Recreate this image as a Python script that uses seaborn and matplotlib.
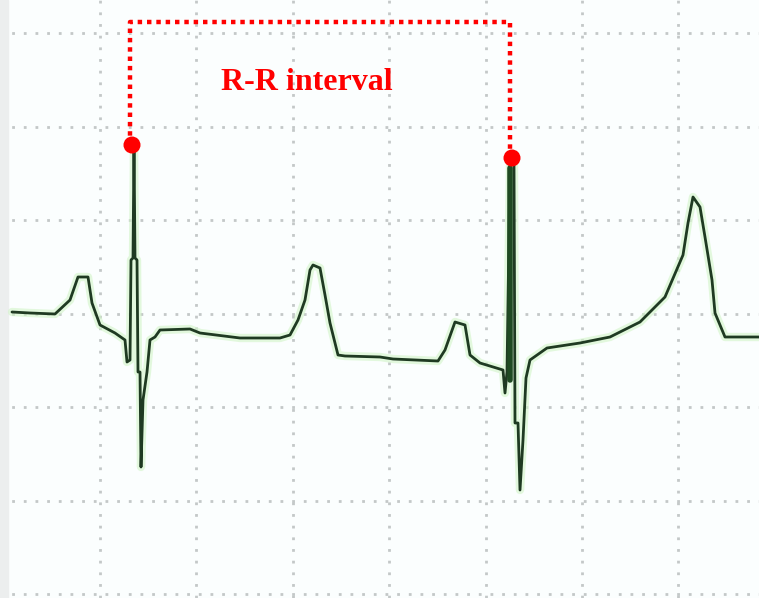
import matplotlib
matplotlib.use("Agg")
import matplotlib.pyplot as plt
import seaborn as sns
import numpy as np
import pandas as pd

# ECG trace (pixel units, y grows downward)
ecg_x = [12, 30, 55, 70, 78, 88, 92, 100, 115, 125, 127, 130, 131, 133, 134, 135, 137, 138,
         140, 141, 143, 147, 150, 155, 160, 190, 200, 240, 280, 290, 298, 305, 310, 313,
         320, 325, 330, 338, 345, 380, 393, 438, 445, 455, 465, 470, 480, 503, 505, 507,
         510, 512, 514, 515, 518, 520, 523, 526, 530, 547, 580, 610, 640, 665, 683, 688,
         693, 700, 705, 712, 715, 725, 759]
ecg_y = [312, 313, 314, 300, 277, 277, 303, 325, 333, 340, 362, 360, 260, 258, 145, 258, 260, 372,
         372, 467, 400, 372, 340, 337, 330, 329, 333, 338, 338, 335, 320, 300, 270, 265,
         268, 295, 323, 355, 356, 357, 359, 361, 350, 322, 325, 355, 363, 370, 393, 372,
         165, 160, 165, 423, 423, 490, 440, 378, 360, 348, 343, 337, 322, 297, 255, 223,
         197, 207, 237, 280, 313, 337, 337]

r_peaks_x = [132, 512]
r_peaks_y = [145, 158]
bracket_top = 22
label = "R-R interval"

grid_x = [3, 100, 196, 293, 389, 486, 582, 678]
grid_y = [33, 127, 220, 314, 407, 501, 594]

sns.set_theme(style="white")
plt.rcParams['font.family'] = ['Liberation Serif', 'DejaVu Serif']

fig = plt.figure(figsize=(7.59, 5.98), dpi=100)
fig.patch.set_facecolor("#fbfefe")
ax = fig.add_axes([0, 0, 1, 1])
ax.set_facecolor("#fbfefe")
ax.set_xlim(0, 759)
ax.set_ylim(598, 0)

for gx in grid_x:
    ax.axvline(gx, color="#c3c8c8", lw=2.0, ls=(0, (1, 3.2)), zorder=0)
for gy in grid_y:
    ax.axhline(gy, color="#c3c8c8", lw=2.0, ls=(0, (1, 3.2)), zorder=0)
ax.axvspan(0, 8, color="#eceeee", zorder=0)

df = pd.DataFrame({"x": ecg_x, "y": ecg_y})
sns.lineplot(data=df, x="x", y="y", sort=False, estimator=None, ax=ax,
             color="#d2f4c8", lw=6, alpha=0.6, zorder=2)
sns.lineplot(data=df, x="x", y="y", sort=False, estimator=None, ax=ax,
             color="#1f3a22", lw=2.0, zorder=3)
# thick second R spike
ax.plot([r_peaks_x[1] - 2, r_peaks_x[1] - 2], [r_peaks_y[1] + 10, 380], color="#1f4a22", lw=4, zorder=3)

# bracket
bx = [r_peaks_x[0] - 2, r_peaks_x[0] - 2, r_peaks_x[1] - 2, r_peaks_x[1] - 2]
by = [r_peaks_y[0], bracket_top, bracket_top, r_peaks_y[1]]
ax.plot(bx, by, color="#ff0000", lw=3.2, ls=(0, (1, 1.1)), zorder=4, solid_capstyle="butt")
sns.scatterplot(x=r_peaks_x, y=r_peaks_y, ax=ax, color="#ff0000", s=150, edgecolor="none", zorder=5)
ax.text(307, 82, label, color="#ff0000", fontsize=23, fontweight="bold",
        ha="center", va="center", zorder=5)

ax.set_xticks([])
ax.set_yticks([])
ax.set_xlabel("")
ax.set_ylabel("")
for s in ax.spines.values():
    s.set_visible(False)

fig.savefig("out.png", dpi=100, facecolor=fig.get_facecolor())
